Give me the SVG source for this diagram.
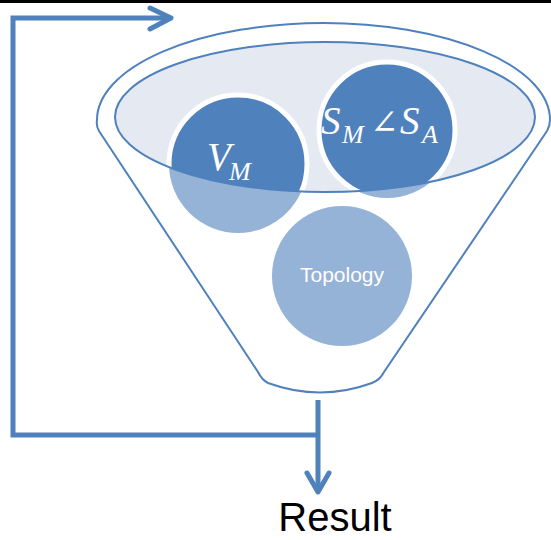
<svg xmlns="http://www.w3.org/2000/svg" width="551" height="540" viewBox="0 0 551 540">
<style>
.ln{fill:none;stroke:#4F81BD;stroke-width:2}
.con{fill:none;stroke:#4F81BD;stroke-width:5;stroke-linejoin:miter}
.head{fill:none;stroke:#4F81BD;stroke-width:5;stroke-linecap:round;stroke-linejoin:round}
.light{fill:#95B3D7}
.dark{fill:#4F81BD;stroke:#FFFFFF;stroke-width:5}
.math{font-family:"Liberation Serif","DejaVu Serif",serif;font-style:italic;fill:#FFFFFF}
</style>
<defs>
<clipPath id="inner"><ellipse cx="325" cy="117" rx="210" ry="75"/></clipPath>
</defs>
<rect x="0" y="0" width="551" height="540" fill="#FFFFFF"/>
<rect x="0" y="0" width="551" height="3" fill="#000000"/>
<g id="funnel">
<path class="ln" d="M 99,131 Q 96,126 97,120 A 226.5,97 0 0 1 550,120 Q 550,126 547,131 L 384,372 Q 380,380 372,383 Q 320,402 268,383 Q 262,380 258,372 Z" style="fill:#FFFFFF"/>
<ellipse cx="325" cy="117" rx="210" ry="75" fill="#E4E9F2" stroke="none"/>
</g>
<g id="node-vm">
<circle class="light" cx="238" cy="164" r="69"/>
<g clip-path="url(#inner)"><circle class="dark" cx="238" cy="164" r="69"/></g>
</g>
<g id="node-s">
<circle class="light" cx="387" cy="130" r="68"/>
<g clip-path="url(#inner)"><circle class="dark" cx="387" cy="130" r="68"/></g>
</g>
<ellipse class="ln" cx="325" cy="117" rx="210" ry="75"/>
<g id="label-vm">
<text class="math" x="207" y="170" font-size="39">V</text>
<text class="math" x="229" y="180" font-size="26">M</text>
</g>
<g id="label-s">
<text class="math" x="321" y="134" font-size="39">S</text>
<text class="math" x="342" y="143" font-size="26">M</text>
<text x="370" y="134" font-size="34" fill="#FFFFFF" font-family="'DejaVu Serif',serif">∠</text>
<text class="math" x="400" y="134" font-size="39">S</text>
<text class="math" x="422" y="143" font-size="26">A</text>
</g>
<g id="node-topology">
<circle class="light" cx="342" cy="276" r="70"/>
<text x="342" y="282" font-size="21" fill="#FFFFFF" font-family="'Liberation Sans',Arial,sans-serif" text-anchor="middle">Topology</text>
</g>
<g id="connectors">
<path class="con" d="M 318,400 L 318,490"/>
<path class="head" d="M 307,473 L 318,492 L 329,473"/>
<path class="con" d="M 318,435 L 13,435 L 13,18 L 170,18"/>
<path class="head" d="M 150,8 L 171,18 L 150,29"/>
</g>
<g id="node-result">
<text x="335" y="531" font-size="40" fill="#000000" font-family="'Liberation Sans',Arial,sans-serif" text-anchor="middle">Result</text>
</g>
</svg>
